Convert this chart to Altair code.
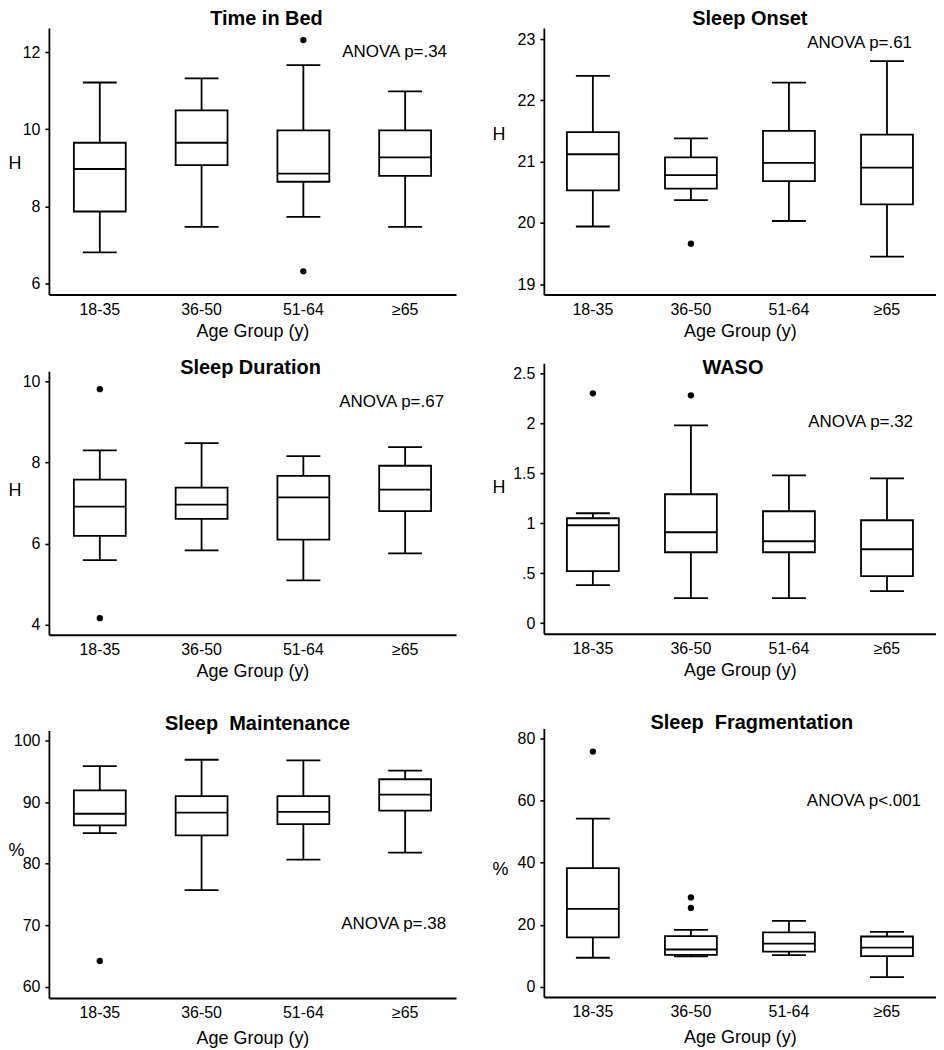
import altair as alt
import pandas as pd

FONT = "Liberation Sans, Arial, Helvetica, sans-serif"

groups = ["18-35", "36-50", "51-64", "≥65"]

# Time in Bed (H)
tib_lo = [6.81, 7.47, 7.73, 7.47]
tib_q1 = [7.87, 9.07, 8.64, 8.79]
tib_med = [8.97, 9.65, 8.85, 9.27]
tib_q3 = [9.65, 10.49, 9.97, 9.97]
tib_hi = [11.21, 11.32, 11.66, 10.98]
tib_out_g = ["51-64", "51-64"]
tib_out_v = [12.31, 6.32]

# Sleep Onset (H)
on_lo = [19.94, 20.37, 20.03, 19.45]
on_q1 = [20.53, 20.56, 20.68, 20.30]
on_med = [21.12, 20.78, 20.98, 20.90]
on_q3 = [21.48, 21.07, 21.50, 21.44]
on_hi = [22.40, 21.38, 22.29, 22.64]
on_out_g = ["36-50"]
on_out_v = [19.66]

# Sleep Duration (H)
dur_lo = [5.59, 5.83, 5.09, 5.76]
dur_q1 = [6.19, 6.61, 6.10, 6.80]
dur_med = [6.91, 6.96, 7.14, 7.33]
dur_q3 = [7.58, 7.38, 7.67, 7.92]
dur_hi = [8.30, 8.48, 8.16, 8.38]
dur_out_g = ["18-35", "18-35"]
dur_out_v = [9.81, 4.16]

# WASO (H)
waso_lo = [0.38, 0.25, 0.25, 0.32]
waso_q1 = [0.52, 0.71, 0.71, 0.47]
waso_med = [0.98, 0.91, 0.82, 0.74]
waso_q3 = [1.05, 1.29, 1.12, 1.03]
waso_hi = [1.10, 1.98, 1.48, 1.45]
waso_out_g = ["18-35", "36-50"]
waso_out_v = [2.30, 2.28]

# Sleep Maintenance (%)
mnt_lo = [84.97, 75.7, 80.65, 81.8]
mnt_q1 = [86.2, 84.6, 86.4, 88.6]
mnt_med = [88.1, 88.27, 88.4, 91.2]
mnt_q3 = [91.9, 90.97, 90.97, 93.7]
mnt_hi = [95.84, 96.86, 96.76, 95.1]
mnt_out_g = ["18-35"]
mnt_out_v = [64.2]

# Sleep Fragmentation (%)
frg_lo = [9.35, 9.8, 10.2, 3.1]
frg_q1 = [15.9, 10.3, 11.3, 9.9]
frg_med = [25.1, 12.0, 13.9, 12.6]
frg_q3 = [38.2, 16.3, 17.5, 16.2]
frg_hi = [54.2, 18.3, 21.2, 17.7]
frg_out_g = ["18-35", "36-50", "36-50"]
frg_out_v = [75.8, 28.8, 25.4]

LW = 1.8
BOX_W = 52
CAP_W = 34


def panel(title, ytitle, lo, q1, med, q3, hi, out_g, out_v, ticks, domain,
          width, height, title_offset, title_dx, ytitle_x, ytitle_y,
          anova, anova_x, anova_y, xtitle_extra=False, waso=False,
          xtitle_pad=5):
    df = pd.DataFrame({"group": groups, "lo": lo, "q1": q1, "med": med,
                       "q3": q3, "hi": hi})
    dfo = pd.DataFrame({"group": out_g, "v": out_v})

    x_title = ["Age Group (y)", ""] if xtitle_extra else "Age Group (y)"
    xenc = alt.X("group:N", sort=groups,
                 scale=alt.Scale(paddingInner=0, paddingOuter=0),
                 axis=alt.Axis(title=x_title, ticks=False, labelAngle=0,
                               labelPadding=7, titlePadding=xtitle_pad,
                               titleLineHeight=15))
    yaxis_kw = dict(values=ticks, title=ytitle, titleAngle=0,
                    titleAlign="left", titleBaseline="middle",
                    titleX=ytitle_x, titleY=ytitle_y, labelPadding=5)
    if waso:
        yaxis_kw["labelExpr"] = "datum.value == 0.5 ? '.5' : format(datum.value, '~g')"
    else:
        yaxis_kw["format"] = "d"
    yscale = alt.Scale(domain=domain, nice=False, zero=False)

    base = alt.Chart(df).encode(x=xenc)
    lower = base.mark_rule(color="black", strokeWidth=LW).encode(
        y=alt.Y("lo:Q", scale=yscale, axis=alt.Axis(**yaxis_kw)), y2="q1:Q")
    upper = base.mark_rule(color="black", strokeWidth=LW).encode(
        y=alt.Y("q3:Q"), y2="hi:Q")
    box = base.mark_bar(size=BOX_W, fill="white", stroke="black",
                        strokeWidth=LW).encode(y=alt.Y("q1:Q"), y2="q3:Q")
    median = base.mark_tick(size=BOX_W, thickness=LW, color="black",
                            opacity=1).encode(y=alt.Y("med:Q"))
    cap_lo = base.mark_tick(size=CAP_W, thickness=LW, color="black",
                            opacity=1).encode(y=alt.Y("lo:Q"))
    cap_hi = base.mark_tick(size=CAP_W, thickness=LW, color="black",
                            opacity=1).encode(y=alt.Y("hi:Q"))
    outl = alt.Chart(dfo).mark_circle(size=40, color="black", opacity=1).encode(
        x=alt.X("group:N", sort=groups), y=alt.Y("v:Q"))
    note = alt.Chart(pd.DataFrame({"t": [anova]})).mark_text(
        align="right", baseline="middle", font=FONT, fontSize=17,
        color="black").encode(text="t:N", x=alt.value(anova_x),
                              y=alt.value(anova_y))

    return alt.layer(lower, upper, box, median, cap_lo, cap_hi, outl, note).properties(
        width=width, height=height,
        title=alt.TitleParams(title, fontSize=20, fontWeight="bold", font=FONT,
                              anchor="middle", frame="group",
                              baseline="alphabetic", offset=title_offset,
                              dx=title_dx, color="black"))


NB = "\u00a0\u00a0"

p1 = panel("Time in Bed", "H", tib_lo, tib_q1, tib_med, tib_q3, tib_hi,
           tib_out_g, tib_out_v, [6, 8, 10, 12], [5.72, 12.62], 408, 267,
           -17, 14, -41, 136, "ANOVA p=.34", 399, 24)
p3 = panel("Sleep Duration", "H", dur_lo, dur_q1, dur_med, dur_q3, dur_hi,
           dur_out_g, dur_out_v, [4, 6, 8, 10], [3.75, 10.25], 408, 264,
           -23, -2, -41, 119, "ANOVA p=.67", 396, 31, xtitle_extra=True)
p5 = panel("Sleep" + NB + "Maintenance", "%", mnt_lo, mnt_q1, mnt_med, mnt_q3, mnt_hi,
           mnt_out_g, mnt_out_v, [60, 70, 80, 90, 100], [58.2, 101.6], 408, 268,
           -19, 5, -41, 120, "ANOVA p=.38", 398, 194, xtitle_pad=9)

p2 = panel("Sleep Onset", "H", on_lo, on_q1, on_med, on_q3, on_hi,
           on_out_g, on_out_v, [19, 20, 21, 22, 23], [18.83, 23.18], 393, 267,
           -17, 10, -52, 107, "ANOVA p=.61", 369, 15)
p4 = panel("WASO", "H", waso_lo, waso_q1, waso_med, waso_q3, waso_hi,
           waso_out_g, waso_out_v, [0, 0.5, 1, 1.5, 2, 2.5], [-0.106, 2.60], 393, 271,
           -31, -7, -52, 124, "ANOVA p=.32", 370, 59, xtitle_extra=True,
           waso=True)
p6 = panel("Sleep" + NB + "Fragmentation", "%", frg_lo, frg_q1, frg_med, frg_q3, frg_hi,
           frg_out_g, frg_out_v, [0, 20, 40, 60, 80], [-3.3, 83.2], 393, 269,
           -20, 12, -52, 141, "ANOVA p<.001", 378, 73, xtitle_pad=9)

left = alt.vconcat(p1, p3, p5, spacing=18)
right = alt.vconcat(p2, p4, p6, spacing=18)

chart = alt.hconcat(left, right, spacing=36).properties(
    padding={"left": 0, "top": 0, "right": 0, "bottom": 0}
).configure_view(
    strokeWidth=0
).configure_axis(
    grid=False,
    labelFont=FONT, labelFontSize=16, labelColor="black",
    titleFont=FONT, titleFontSize=18, titleFontWeight="normal", titleColor="black",
    domainColor="black", domainWidth=LW, tickColor="black", tickWidth=1.6,
    tickSize=4,
)

chart.save("out.html", embed_options={"renderer": "svg", "actions": False})
